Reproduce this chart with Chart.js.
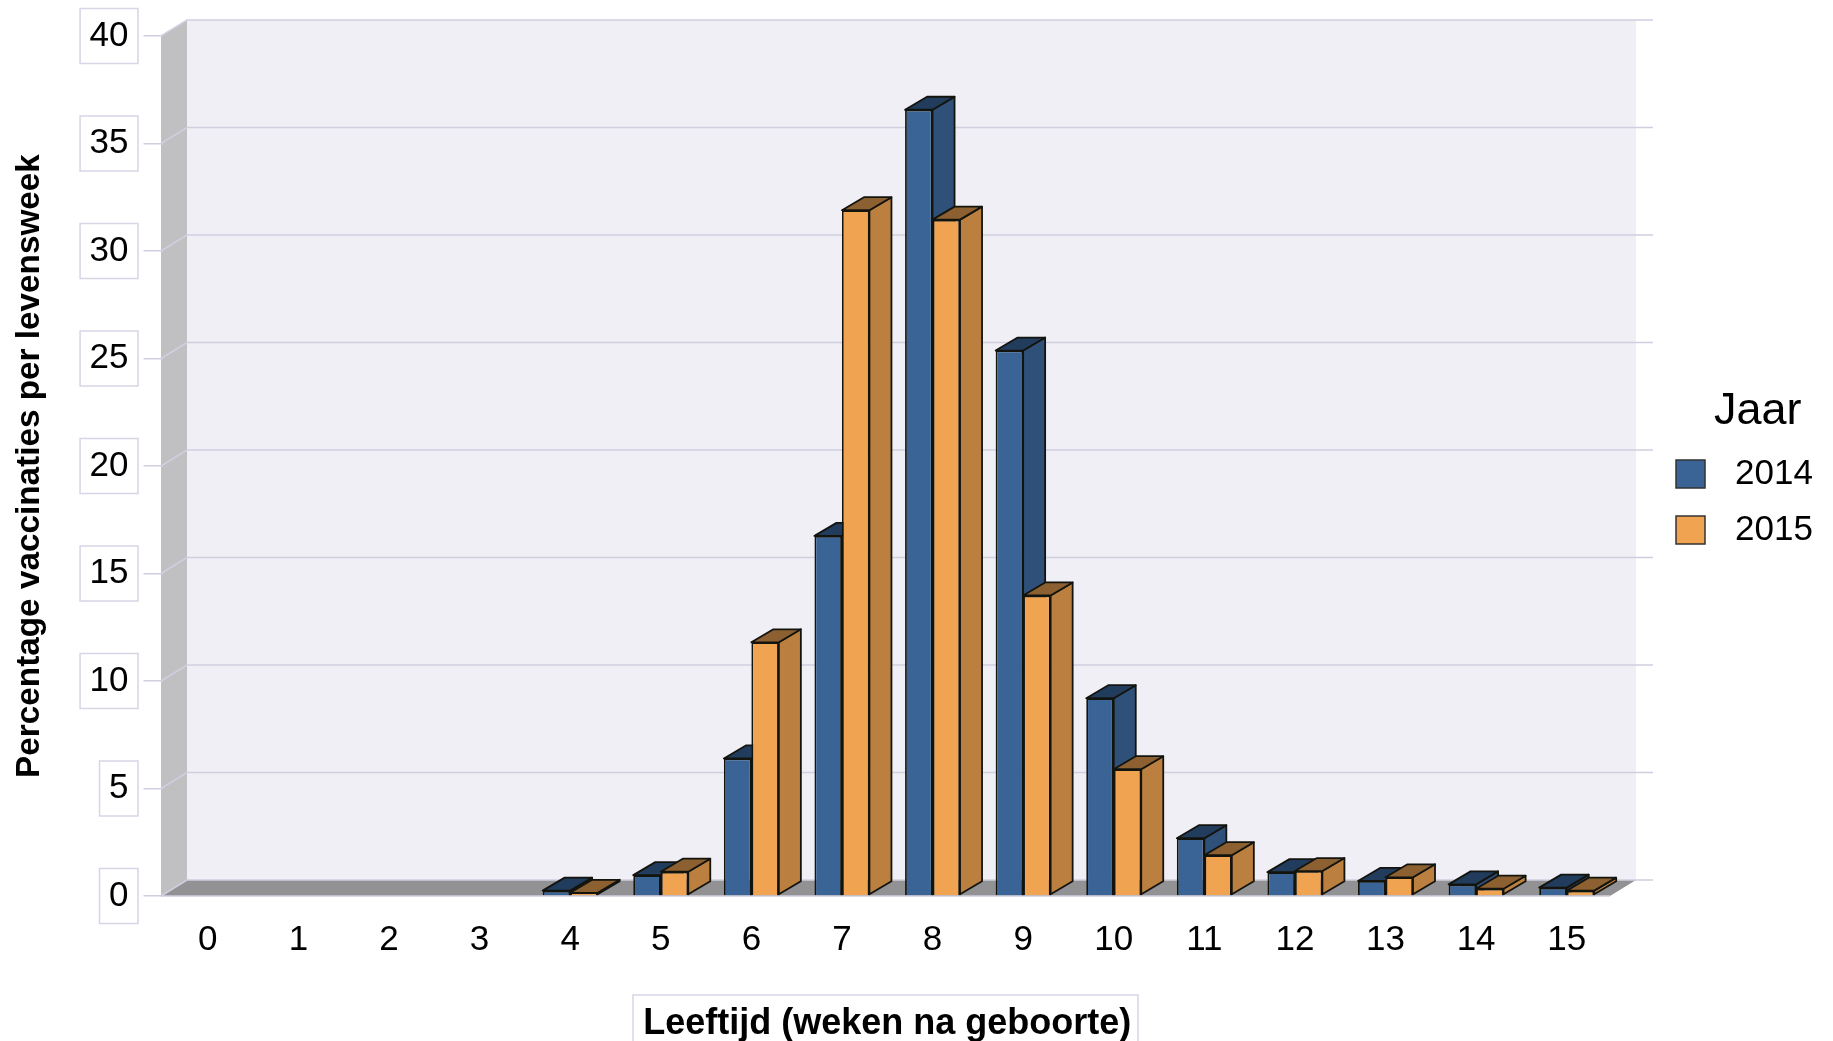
<!DOCTYPE html>
<html>
<head>
<meta charset="utf-8">
<style>
  html, body { margin: 0; padding: 0; background: #fff; }
  canvas { display: block; }
</style>
<script src="https://cdn.jsdelivr.net/npm/chart.js@4/dist/chart.umd.js"></script>
</head>
<body>
<canvas id="chart" width="1833" height="1041"></canvas>
<script>
const weeks = ["0", "1", "2", "3", "4", "5", "6", "7", "8", "9", "10", "11", "12", "13", "14", "15"];
const values2014 = [0, 0, 0, 0, 0.25, 0.97, 6.4, 16.75, 36.57, 25.37, 9.2, 2.69, 1.11, 0.7, 0.54, 0.39];
const values2015 = [0, 0, 0, 0, 0.15, 1.13, 11.8, 31.9, 31.46, 13.98, 5.9, 1.9, 1.16, 0.87, 0.34, 0.25];

const font = "'Liberation Sans', Arial, sans-serif";
const gridColor = "#cfcfe0";
const boxColor = "#d6d6e6";

// depth of the walls and of the bars
const wallDx = 26, wallDy = 16;
const barDx = 22, barDy = 13;

const faces = [
  { top: "#213c5c", side: "#2f5078" },
  { top: "#8c6030", side: "#bb803f" },
];

function poly(ctx, pts, fill, stroke, lw) {
  ctx.beginPath();
  pts.forEach((p, i) => (i ? ctx.lineTo(p[0], p[1]) : ctx.moveTo(p[0], p[1])));
  ctx.closePath();
  if (fill) { ctx.fillStyle = fill; ctx.fill(); }
  if (stroke) { ctx.strokeStyle = stroke; ctx.lineWidth = lw || 1; ctx.stroke(); }
}

const box3d = {
  id: "box3d",
  // walls and floor
  beforeDraw(chart) {
    const { ctx, chartArea: a, scales: { y } } = chart;
    const t = y.getPixelForValue(40), b = y.getPixelForValue(0);
    const l = a.left - 1.5, r = a.right - 2;
    const wallRight = r + wallDx;
    ctx.save();
    poly(ctx, [[l + wallDx, t - wallDy], [wallRight, t - wallDy], [wallRight, b - wallDy], [l + wallDx, b - wallDy]], "#efeff5");
    poly(ctx, [[l, t], [l + wallDx, t - wallDy], [l + wallDx, b - wallDy], [l, b]], "#c0c0c2");
    poly(ctx, [[l, b], [l + wallDx, b - wallDy], [wallRight, b - wallDy], [r, b]], "#929294");
    y.ticks.forEach((tick) => {
      const py = y.getPixelForValue(tick.value);
      ctx.beginPath();
      ctx.moveTo(l, py);
      ctx.lineTo(l + wallDx, py - wallDy);
      ctx.lineTo(wallRight + 17, py - wallDy);
      ctx.strokeStyle = gridColor;
      ctx.lineWidth = 1.5;
      ctx.stroke();
    });
    ctx.beginPath();
    ctx.moveTo(l, b);
    ctx.lineTo(r, b);
    ctx.strokeStyle = gridColor;
    ctx.stroke();
    ctx.restore();
  },
  // top and side of every bar, blue first so orange lies over it; the fronts come from the library
  beforeDatasetsDraw(chart) {
    const { ctx } = chart;
    ctx.save();
    ctx.lineJoin = "round";
    chart.data.datasets.forEach((ds, d) => {
      const face = faces[d];
      chart.getDatasetMeta(d).data.forEach((bar, i) => {
        if (!ds.data[i]) return;
        const l = bar.x - bar.width / 2, r = bar.x + bar.width / 2;
        const t = bar.y, b = bar.base - 1;
        poly(ctx, [[r, t], [r + barDx, t - barDy], [r + barDx, b - barDy], [r, b]], face.side, "#14140f", 1.8);
        poly(ctx, [[l, t], [l + barDx, t - barDy], [r + barDx, t - barDy], [r, t]], face.top, "#14140f", 1.8);
      });
    });
    ctx.restore();
  },
  afterDraw(chart) {
    const { ctx, scales: { y } } = chart;
    ctx.save();
    // boxes round the y labels
    ctx.strokeStyle = boxColor;
    ctx.lineWidth = 1.5;
    ctx.font = "35px " + font;
    y.ticks.forEach((tick) => {
      const py = y.getPixelForValue(tick.value);
      const w = ctx.measureText(tick.label).width + 19;
      ctx.strokeRect(138 - w, py - 27.5, w, 55);
    });
    // box round the x title
    ctx.beginPath();
    ctx.moveTo(633, 1045);
    ctx.lineTo(633, 995);
    ctx.lineTo(1138, 995);
    ctx.lineTo(1138, 1045);
    ctx.stroke();

    // legend
    ctx.textBaseline = "middle";
    ctx.textAlign = "left";
    ctx.fillStyle = "#000";
    ctx.font = "45px " + font;
    ctx.fillText("Jaar", 1714, 412);
    ctx.font = "35px " + font;
    chart.data.datasets.forEach((ds, i) => {
      const cy = 474 + i * 56;
      ctx.fillStyle = ds.backgroundColor;
      ctx.fillRect(1676, cy - 14, 29, 28);
      ctx.strokeStyle = "#333";
      ctx.lineWidth = 1.5;
      ctx.strokeRect(1676, cy - 14, 29, 28);
      ctx.fillStyle = "#000";
      ctx.fillText(ds.label, 1735, cy);
    });
    ctx.restore();
  },
};

new Chart(document.getElementById("chart"), {
  type: "bar",
  data: {
    labels: weeks,
    datasets: [
      { label: "2014", data: values2014, backgroundColor: "#3a6496", borderColor: "#14140f", borderWidth: 1.8 },
      { label: "2015", data: values2015, backgroundColor: "#f0a350", borderColor: "#14140f", borderWidth: 1.8 },
    ],
  },
  options: {
    responsive: false,
    animation: false,
    devicePixelRatio: 1,
    layout: { padding: { top: 33, right: 221, bottom: 0, left: 0 } },
    datasets: { bar: { barPercentage: 1, categoryPercentage: 0.607 } },
    plugins: { legend: { display: false }, tooltip: { enabled: false } },
    scales: {
      x: {
        grid: { display: false },
        border: { display: false },
        ticks: { color: "#000", font: { family: font, size: 35 }, padding: 15, maxRotation: 0, autoSkip: false },
        title: {
          display: true,
          text: "Leeftijd (weken na geboorte)",
          color: "#000",
          font: { family: font, size: 36, weight: "bold" },
          padding: { top: 0, bottom: -5 },
        },
        afterFit: (s) => { s.height = 145; },
      },
      y: {
        min: 0,
        max: 40,
        grid: { drawOnChartArea: false, color: gridColor, tickColor: gridColor, tickLength: 19, lineWidth: 1.5 },
        border: { display: false },
        ticks: { stepSize: 5, color: "#000", font: { family: font, size: 35 }, padding: 15 },
        title: {
          display: true,
          text: "Percentage vaccinaties per levensweek",
          color: "#000",
          font: { family: font, size: 33.3, weight: "bold" },
          padding: { top: 10, bottom: 0 },
        },
        afterFit: (s) => { s.width = 162.5; },
      },
    },
  },
  plugins: [box3d],
});
</script>
</body>
</html>
